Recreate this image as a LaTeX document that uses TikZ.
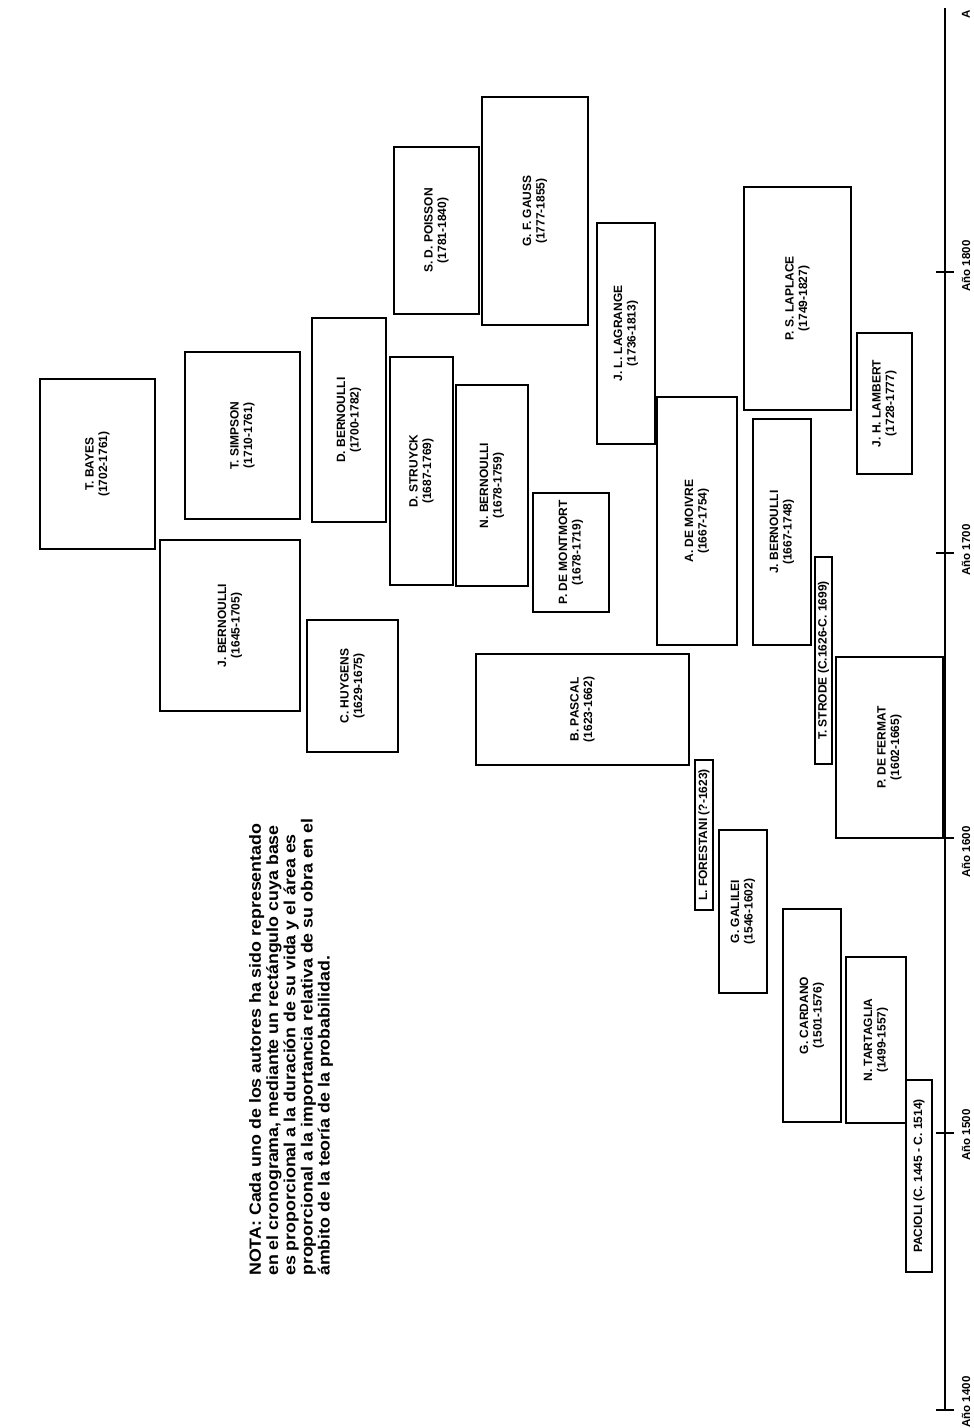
\documentclass[tikz,border=0pt]{standalone}
\usepackage{fontspec}
\setmainfont{Liberation Sans}
\newfontfamily\lblfont{Liberation Sans}
\newfontfamily\notefont[FakeStretch=1.1]{Liberation Sans}
\begin{document}
\begin{tikzpicture}[x=1pt,y=-1pt,
  pbox/.style={draw=black, line width=2.2pt, rotate=90, inner sep=0pt, align=center,
     font=\lblfont\bfseries\fontsize{12}{13.5}\selectfont},
  axlbl/.style={rotate=90, inner sep=0pt, font=\lblfont\bfseries\fontsize{11.5}{13}\selectfont},
  axisline/.style={line width=2.6pt},
  tickline/.style={line width=1.8pt}]
\useasboundingbox (0,0) rectangle (974,1428);
\fill[white] (0,0) rectangle (974,1428);
\newcommand\pbx[6]{%
  \pgfmathsetmacro\cxx{(#2+#4)/2}\pgfmathsetmacro\cyy{(#3+#5)/2}%
  \pgfmathsetmacro\ww{#4-#2}\pgfmathsetmacro\hh{#5-#3}%
  \node[pbox, minimum width=\hh pt, minimum height=\ww pt] (#1) at (\cxx,\cyy) {#6};}
\pbx{bayes}{40}{379}{155}{549}{T. BAYES\\(1702-1761)}
\pbx{simpson}{185}{352}{300}{519}{T. SIMPSON\\(1710-1761)}
\pbx{jbernA}{160}{540}{300}{711}{J. BERNOULLI\\(1645-1705)}
\pbx{dbern}{312}{318}{386}{522}{D. BERNOULLI\\(1700-1782)}
\pbx{huygens}{307}{620}{398}{752}{C. HUYGENS\\(1629-1675)}
\pbx{poisson}{394}{147}{479}{314}{S. D. POISSON\\(1781-1840)}
\pbx{gauss}{482}{97}{588}{325}{G. F. GAUSS\\(1777-1855)}
\pbx{struyck}{390}{357}{453}{585}{D. STRUYCK\\(1687-1769)}
\pbx{nbern}{456}{385}{528}{586}{N. BERNOULLI\\(1678-1759)}
\pbx{montmort}{533}{493}{609}{612}{P. DE MONTMORT\\(1678-1719)}
\pbx{pascal}{476}{654}{689}{765}{B. PASCAL\\(1623-1662)}
\pbx{lagrange}{597}{223}{655}{444}{J. L. LAGRANGE\\(1736-1813)}
\pbx{moivre}{657}{397}{737}{645}{A. DE MOIVRE\\(1667-1754)}
\pbx{jbernB}{753}{419}{811}{645}{J. BERNOULLI\\(1667-1748)}
\pbx{laplace}{744}{187}{851}{410}{P. S. LAPLACE\\(1749-1827)}
\pbx{lambert}{857}{333}{912}{474}{J. H. LAMBERT\\(1728-1777)}
\pbx{strode}{815}{557}{832}{764}{T. STRODE (C.1626-C. 1699)}
\pbx{fermat}{836}{657}{943}{838}{P. DE FERMAT\\(1602-1665)}
\pbx{forestani}{695}{760}{713}{910}{L. FORESTANI (?-1623)}
\pbx{galilei}{719}{830}{767}{993}{G. GALILEI\\(1546-1602)}
\pbx{cardano}{783}{909}{841}{1122}{G. CARDANO\\(1501-1576)}
\pbx{tartaglia}{846}{957}{906}{1123}{N. TARTAGLIA\\(1499-1557)}
\pbx{pacioli}{906}{1080}{932}{1272}{PACIOLI (C. 1445 - C. 1514)}
% axis
\coordinate (axbot) at (945,1410);
\coordinate (axtop) at (945,8);
\draw[axisline] (axbot) -- (axtop);
\foreach \yr/\yy/\ly in {1400/1410/1402,1500/1133/1135,1600/838/852,1700/553/550,1800/272/266}{
  \coordinate (t\yr) at (945,\yy);
  \draw[tickline] ([xshift=-9pt]t\yr) -- ([xshift=9pt]t\yr);
  \node[axlbl] (l\yr) at (966,\ly) {Año \yr};
}
\node[axlbl] (atop) at (966,14) {A};
% note
\node[rotate=90, anchor=north west, inner sep=0pt, align=left,
  font=\notefont\bfseries\fontsize{16.2}{17.2}\selectfont] (nota) at (249,1276)
{NOTA: Cada uno de los autores ha sido representado\\
en el cronograma, mediante un rectángulo cuya base\\
es proporcional a la duración de su vida y el área es\\
proporcional a la importancia relativa de su obra en el\\
ámbito de la teoría de la probabilidad.};
\end{tikzpicture}
\end{document}
